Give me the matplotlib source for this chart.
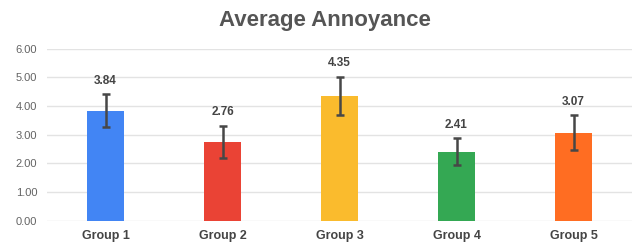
import matplotlib
matplotlib.use("Agg")
import matplotlib.pyplot as plt

categories = ["Group 1", "Group 2", "Group 3", "Group 4", "Group 5"]
values = [3.84, 2.76, 4.35, 2.41, 3.07]
errors = [0.57, 0.56, 0.67, 0.47, 0.61]
colors = ["#4285F4", "#EA4335", "#FABB2D", "#34A853", "#FF6D22"]
yticks = [0, 1, 2, 3, 4, 5, 6]

plt.rcParams['font.family'] = ['Liberation Sans', 'DejaVu Sans']

fig = plt.figure(figsize=(6.38, 2.44), dpi=100)
ax = fig.add_axes([0.0737, 0.0955, 0.917, 0.705])

x = list(range(len(categories)))
ax.bar(x, values, width=0.31, color=colors, zorder=2)
ax.errorbar(x, values, yerr=errors, fmt='none', ecolor='#474747',
            elinewidth=1.8, capsize=3, capthick=1.8, zorder=3)
for xi, v, e in zip(x, values, errors):
    ax.text(xi, v + e + 0.47, f"{v:.2f}", ha='center', va='center',
            fontsize=8.5, fontweight='bold', color='#444444')

ax.set_ylim(0, 6)
ax.set_xlim(-0.5, 4.5)
ax.set_yticks(yticks)
ax.set_yticklabels([f"{t:.2f}" for t in yticks], fontsize=8, color='#636363')
ax.set_xticks(x)
ax.set_xticklabels(categories, fontsize=9, fontweight='bold', color='#444444')
ax.tick_params(axis='both', length=0)
ax.tick_params(axis='x', pad=7)
ax.tick_params(axis='y', pad=7)
ax.grid(axis='y', color='#e3e3e3', linewidth=1, zorder=0)
for s in ax.spines.values():
    s.set_visible(False)

fig.text(0.509, 0.914, "Average Annoyance", ha='center', va='center',
         fontsize=16, fontweight='bold', color='#555555')

fig.savefig("out.png", dpi=100, facecolor='white')
